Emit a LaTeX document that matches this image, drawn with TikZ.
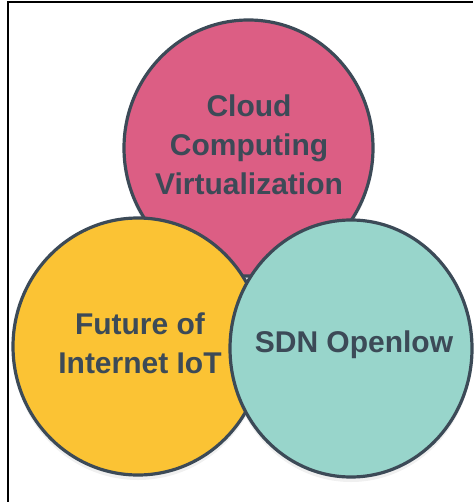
\documentclass[tikz,border=0pt]{standalone}
\usepackage{fontspec}
\setmainfont{Liberation Sans}
\usepackage{xcolor}
\usepackage{tikz}
\usetikzlibrary{shadows,shapes.geometric,positioning}
\definecolor{cloudpink}{HTML}{DC5E84}
\definecolor{iotyellow}{HTML}{FBC334}
\definecolor{sdnteal}{HTML}{98D5CB}
\definecolor{inkslate}{HTML}{3C4A57}

\begin{document}
\begin{tikzpicture}[x=1pt,y=-1pt,
bubble/.style={ellipse,draw=inkslate,line width=3.2pt,inner sep=0pt,
  drop shadow={opacity=0.12,shadow xshift=0pt,shadow yshift=-5pt}},
caption/.style={text=inkslate,align=center,font=\bfseries\fontsize{30}{39}\selectfont}]
\useasboundingbox (0,0) rectangle (473,502);
\draw[line width=2pt](7.5,502)--(7.5,2.5)--(473,2.5);
\node[bubble,fill=cloudpink,minimum width=249pt,minimum height=256pt](cloud)at(248.5,148){};
\node[bubble,fill=iotyellow,minimum width=250pt,minimum height=257pt](iot)at(138,346.5){};
\node[bubble,fill=sdnteal,minimum width=242pt,minimum height=257pt](sdn)at(351,348.5){};
\node[caption](cloudtext)at(249,145){Cloud\\Computing\\Virtualization};
\node[caption](iottext)at(140,343){Future of\\Internet IoT};
\node[caption](sdntext)at(354,345){SDN Openlow};
\end{tikzpicture}
\end{document}
